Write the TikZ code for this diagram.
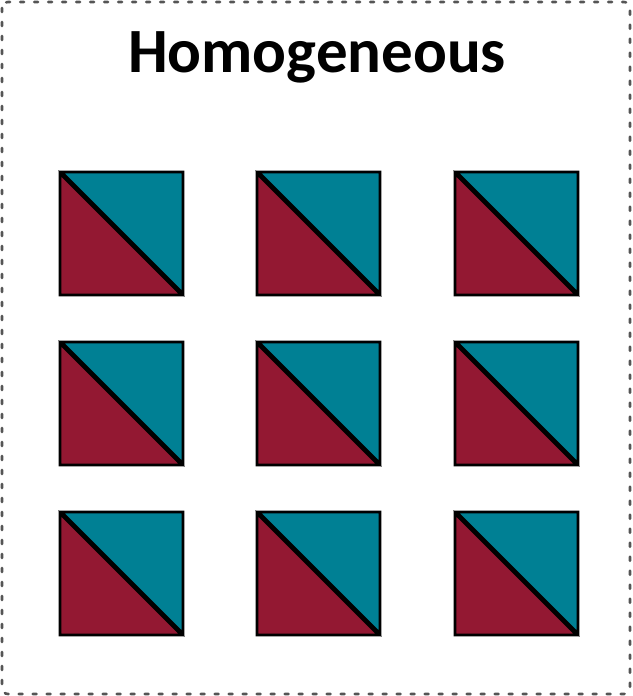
\documentclass[tikz,border=0pt]{standalone}
\usepackage{fontspec}
\setmainfont{Carlito}
\definecolor{tealc}{HTML}{008094}
\definecolor{redc}{HTML}{931832}
\definecolor{bordc}{HTML}{555555}
\begin{document}
\begin{tikzpicture}[x=1pt,y=-1pt,
  tri/.style={draw=black,line width=2.8pt,line join=miter},
  frame/.style={draw=bordc,line width=2.6pt,dash pattern=on 4pt off 10pt,line cap=round,rounded corners=6pt},
  pics/halfsq/.style={code={
    \filldraw[tri,fill=redc] (0,1.5) -- (0,123) -- (121.5,123) -- cycle;
    \filldraw[tri,fill=tealc] (1.5,0) -- (123,0) -- (123,121.5) -- cycle;
  }}]
\useasboundingbox (0,0) rectangle (632,696);
\draw[frame] (2,2) rectangle (630,694);
\node[font=\bfseries\fontsize{63}{75}\selectfont,anchor=base] (title) at (317,72) {Homogeneous};
\foreach \r/\yy in {1/172,2/342,3/512}{
  \foreach \c/\xx in {1/60,2/257,3/455}{
    \pic (sq\r\c) at (\xx,\yy) {halfsq};
  }
}
\end{tikzpicture}
\end{document}
